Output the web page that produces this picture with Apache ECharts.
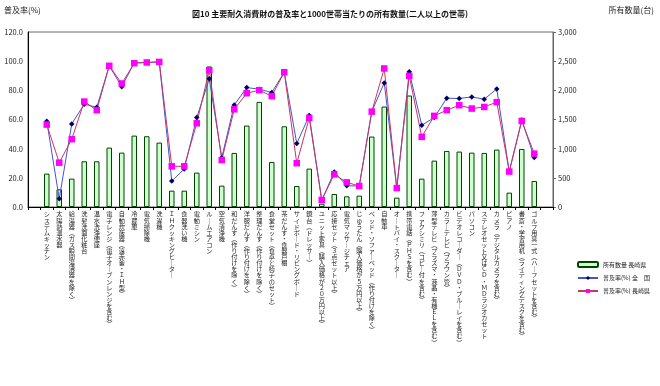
<!DOCTYPE html>
<html>
<head>
<meta charset="utf-8">
<script src="https://cdn.jsdelivr.net/npm/echarts@6/dist/echarts.min.js"></script>
<style>html,body{margin:0;padding:0;background:#fff;}#c{width:660px;height:386px;}</style>
</head>
<body>
<div id="c"></div>
<script>
const categories = ['システムキッチン','太陽熱温水器','給湯器(ガス瞬間湯沸器を除く)','洗髪洗面化粧台','温水洗浄便座','電子レンジ(電子オーブンレンジを含む)','自動炊飯器(遠赤釜・ＩＨ型)','冷蔵庫','電気掃除機','洗濯機','ＩＨクッキングヒーター','食器洗い機','電動ミシン','ルームエアコン','空気清浄機','和だんす(作り付けを除く)','洋服だんす(作り付けを除く)','整理だんす(作り付けを除く)','食堂セット(食卓と椅子のセット)','茶だんす・食器戸棚','サイドボード・リビングボード','鏡台(ドレッサー)','ユニット家具(購入価格が２０万円以上)','応接セット(３点セット以上)','電気マッサージチェア','じゅうたん(購入価格が５万円以上)','ベッド・ソファーベッド(作り付けを除く)','自動車','オートバイ・スクーター','携帯電話(ＰＨＳを含む)','ファクシミリ(コピー付を含む)','薄型テレビ(プラズマ・液晶・有機ＥＬを含む)','カラーテレビ(ブラウン管)','ビデオレコーダー(ＤＶＤ・ブルーレイを含む)','パソコン','ステレオセット又はＣＤ・ＭＤラジオカセット','カメラ(デジタルカメラを含む)','ピアノ','書斎・学習用机(ライティングデスクを含む)','ゴルフ用具一式(ハーフセットを含む)'];

const ownershipNagasaki = [572, 303, 486, 784, 784, 1018, 932, 1224, 1213, 1104, 280, 280, 589, 2409, 366, 927, 1396, 1802, 772, 1384, 360, 658, 57, 223, 183, 195, 1207, 1722, 160, 1911, 486, 795, 961, 950, 932, 927, 984, 246, 995, 446];

const rateNational = [58.8, 5.7, 57.0, 70.5, 68.4, 96.8, 82.4, 98.9, 99.1, 99.5, 17.8, 26.1, 61.3, 87.9, 33.8, 70.0, 81.9, 80.8, 78.5, 92.4, 43.5, 62.7, 4.6, 24.0, 14.6, 14.4, 65.4, 85.1, 13.0, 92.7, 56.1, 61.3, 74.6, 74.4, 75.5, 73.9, 81.0, 24.3, 59.7, 33.9];

const rateNagasaki = [56.5, 30.4, 46.5, 72.3, 66.4, 96.8, 84.7, 98.6, 99.1, 99.5, 27.9, 27.9, 57.4, 93.8, 32.2, 67.0, 78.0, 80.1, 76.0, 92.4, 30.0, 61.1, 4.8, 22.4, 16.9, 14.4, 65.4, 95.0, 13.0, 89.9, 48.1, 62.5, 66.4, 69.8, 67.5, 68.6, 71.9, 24.3, 59.0, 36.6];

const leftTicks = [0, 20, 40, 60, 80, 100, 120];
const rightTicks = [0, 500, 1000, 1500, 2000, 2500, 3000];

const seriesNames = ['所有数量 長崎県', '普及率(%) 全　国', '普及率(%) 長崎県'];

const FONT = '"Noto Sans CJK JP", "Noto Sans", sans-serif';

function vertical(s) {
  const map = {'(': '︵', ')': '︶', 'ー': '｜'};
  return Array.from(s).map(ch => map[ch] || ch).join('\n');
}
const pad = arr => [null].concat(arr, [null]);
const padCat = arr => [' '].concat(arr, ['  ']);

const chart = echarts.init(document.getElementById('c'), null, {renderer: 'canvas'});
chart.setOption({
  backgroundColor: '#ffffff',
  animation: false,
  textStyle: {fontFamily: FONT},
  title: {
    text: '図10 主要耐久消費財の普及率と1000世帯当たりの所有数量(二人以上の世帯)',
    left: 'center', top: 5,
    textStyle: {fontSize: 8, fontWeight: 'bold', color: '#111', fontFamily: FONT}
  },
  graphic: [
    {type: 'text', left: 4, top: 6, style: {text: '普及率(%)', fontSize: 8, fill: '#222', fontFamily: FONT}},
    {type: 'text', right: 6, top: 6, style: {text: '所有数量(台)', fontSize: 8, fill: '#222', fontFamily: FONT}}
  ],
  legend: {
    orient: 'vertical', left: 572, top: 256, itemGap: 7, itemWidth: 20, itemHeight: 5,
    textStyle: {fontSize: 6, color: '#222', fontFamily: FONT},
    data: seriesNames
  },
  grid: {left: 28, right: 107, top: 32, bottom: 179, show: true, borderColor: '#666', borderWidth: 1, containLabel: false},
  xAxis: {
    type: 'category',
    data: padCat(categories.map(vertical)),
    boundaryGap: true,
    axisLine: {lineStyle: {color: '#000', width: 1}},
    axisTick: {show: true, length: 3, interval: 0, lineStyle: {color: '#000'}},
    axisLabel: {interval: 0, fontSize: 6.2, lineHeight: 6.1, margin: 4, color: '#222', verticalAlign: 'top', fontFamily: FONT}
  },
  yAxis: [
    {
      type: 'value', min: leftTicks[0], max: leftTicks[leftTicks.length - 1], interval: 20, position: 'left',
      axisLine: {show: true, lineStyle: {color: '#000'}},
      axisTick: {show: false},
      splitLine: {show: false},
      axisLabel: {formatter: v => v.toFixed(1), fontSize: 7.5, color: '#222', margin: 5, fontFamily: FONT}
    },
    {
      type: 'value', min: rightTicks[0], max: rightTicks[rightTicks.length - 1], interval: 500, position: 'right',
      axisLine: {show: true, lineStyle: {color: '#666'}},
      axisTick: {show: true, length: 3, lineStyle: {color: '#666'}},
      splitLine: {show: false},
      axisLabel: {formatter: v => v.toLocaleString('en-US'), fontSize: 7.5, color: '#222', margin: 5, fontFamily: FONT}
    }
  ],
  series: [
    {
      name: seriesNames[0], type: 'bar', yAxisIndex: 1, data: pad(ownershipNagasaki),
      barWidth: 5.5,
      itemStyle: {color: '#ccffcc', borderColor: '#004400', borderWidth: 1}
    },
    {
      name: seriesNames[1], type: 'line', yAxisIndex: 0, data: pad(rateNational),
      symbol: 'diamond', symbolSize: 5.5, connectNulls: false,
      lineStyle: {color: '#4455cc', width: 1},
      itemStyle: {color: '#000066'}
    },
    {
      name: seriesNames[2], type: 'line', yAxisIndex: 0, data: pad(rateNagasaki),
      symbol: 'rect', symbolSize: 6.5,
      lineStyle: {color: '#cc3366', width: 1},
      itemStyle: {color: '#ff00ff'}
    }
  ]
});
</script>
</body>
</html>
